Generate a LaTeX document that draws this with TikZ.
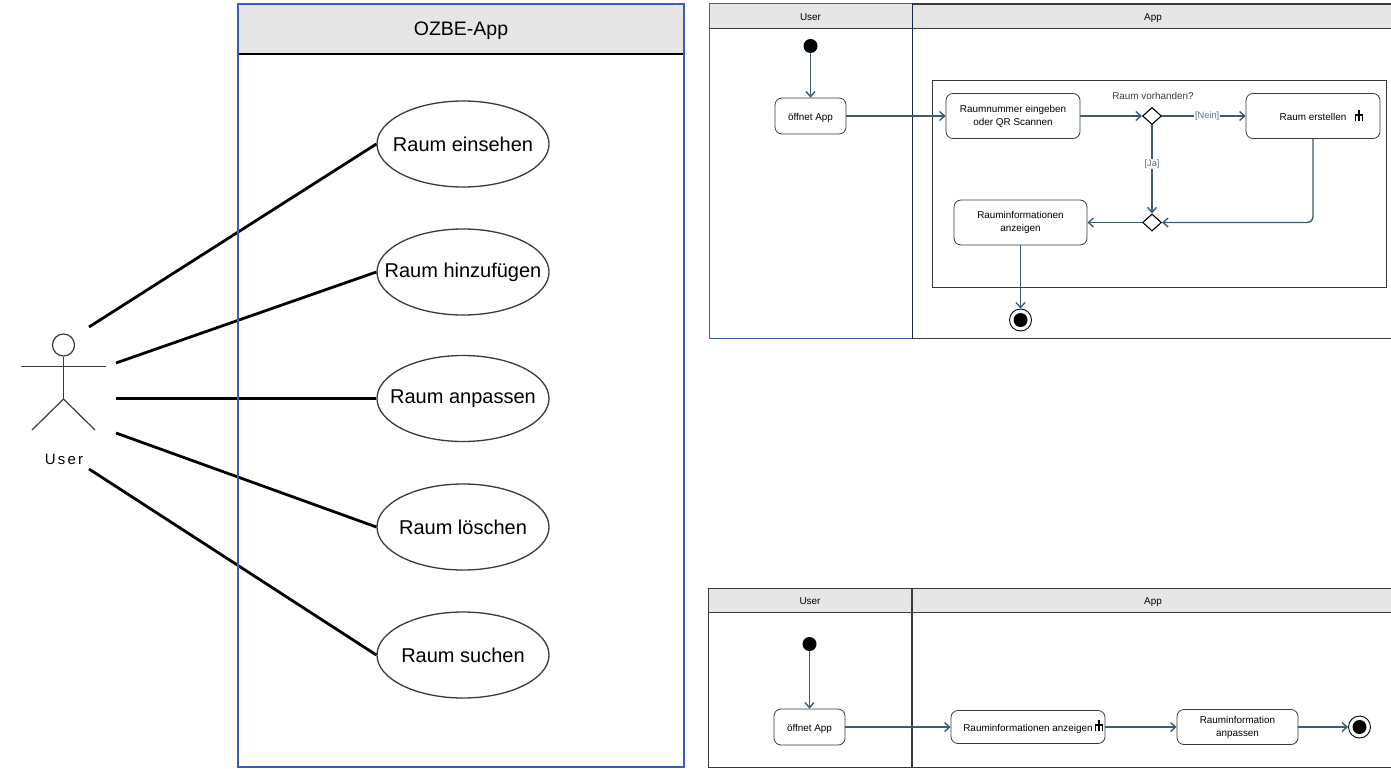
\documentclass[tikz,border=0pt]{standalone}
\usepackage{fontspec}
\setmainfont{Liberation Sans}
\usepackage{xcolor}
\usetikzlibrary{positioning,arrows.meta,shapes.geometric,calc}
\definecolor{flowcol}{HTML}{3F5B6E}
\definecolor{guardcol}{HTML}{5A7488}
\definecolor{framecol}{HTML}{3A3A3A}
\definecolor{headcol}{HTML}{E6E6E6}
\definecolor{sysblue}{HTML}{3B5BB5}
\newcommand{\lanefont}{\fontsize{9.9}{13}\selectfont}

\begin{document}
\begin{tikzpicture}[
  x=1pt, y=-1pt,
  usecase/.style={ellipse, draw=framecol, line width=1.3pt, fill=white, minimum width=172pt, minimum height=86pt, inner xsep=-40pt, inner ysep=-5pt, font=\fontsize{20}{24}\selectfont},
  assoc/.style={line width=2.8pt, black},
  limb/.style={line width=1.2pt, framecol},
  action/.style={rectangle, rounded corners=7pt, draw=framecol, line width=0.8pt, fill=white, inner sep=0pt, align=center, font=\lanefont},
  oneline/.style={text height=9pt, text depth=1pt},
  lane/.style={rectangle, draw=framecol, line width=1pt, inner sep=0pt},
  lanehead/.style={rectangle, draw=framecol, line width=0.9pt, fill=headcol, inner sep=0pt, font=\lanefont, text height=10pt, text depth=1pt},
  decision/.style={diamond, draw=black, line width=1.1pt, fill=white, minimum width=19pt, minimum height=17pt, inner sep=0pt},
  startdot/.style={circle, fill=black, minimum size=14pt, inner sep=0pt},
  endring/.style={circle, draw=black, line width=0.9pt, fill=white, minimum size=22pt, inner sep=0pt},
  flow/.style={line width=1.4pt, flowcol, -{Straight Barb[length=5pt,width=9pt]}},
  guard/.style={fill=white, inner sep=1pt, text=guardcol, font=\fontsize{9.3}{13}\selectfont},
  rake/.pic={
    \draw[line width=1.3pt, black] (0,-6) -- (0,5);
    \draw[line width=1.2pt, black] (-3.5,5) -- (-3.5,-1) -- (3.5,-1) -- (3.5,5);
  }
]
  \useasboundingbox (0,0) rectangle (1391,768);

  % Actor
  \coordinate (headc) at (63.5,345);
  \node[circle, draw=framecol, line width=1.2pt, minimum size=22pt, inner sep=0pt] (head) at (headc) {};
  \coordinate (armL) at (21,366.5);
  \coordinate (armR) at (106,366.5);
  \coordinate (hip) at (63.5,399);
  \coordinate (footL) at (32,430);
  \coordinate (footR) at (95,430);
  \draw[limb] (head.south) -- (hip);
  \draw[limb] (armL) -- (armR);
  \draw[limb] (footL) -- (hip) -- (footR);
  \node[font=\fontsize{15}{18}\selectfont\addfontfeature{LetterSpace=15}] (user) at (64,459) {User};

  % Association ends at the actor
  \coordinate (a1) at (89,327);
  \coordinate (a2) at (116,363);
  \coordinate (a3) at (116,398.5);
  \coordinate (a4) at (116,433);
  \coordinate (a5) at (89,469);

  % Use cases
  \node[usecase] (einsehen) at (463,144) {Raum einsehen};
  \node[usecase] (hinzu) at (463,272) {Raum hinzufügen};
  \node[usecase] (anpassen) at (463,398.5) {Raum anpassen};
  \node[usecase] (loeschen) at (463,527) {Raum löschen};
  \node[usecase] (suchen) at (463,655) {Raum suchen};

  \draw[assoc] (a1) -- (einsehen.west);
  \draw[assoc] (a2) -- (hinzu.west);
  \draw[assoc] (a3) -- (anpassen.west);
  \draw[assoc] (a4) -- (loeschen.west);
  \draw[assoc] (a5) -- (suchen.west);

  % System box
  \node[rectangle, fill=headcol, minimum width=445pt, minimum height=49pt, inner sep=0pt, font=\fontsize{19.5}{22}\selectfont, text height=18pt, text depth=4pt] (syshead) at (461,29) {OZBE-App};
  \draw[line width=2pt, black] (syshead.south west) -- (syshead.south east);
  \node[rectangle, draw=sysblue, line width=2.4pt, minimum width=446pt, minimum height=763pt, inner sep=0pt] (system) at (461,385.5) {};

  % Upper activity, lanes
  \node[lane, minimum width=482pt, minimum height=334pt] (applaneA) at (1153,171) {};
  \node[lanehead, minimum width=482pt, minimum height=24pt] (appheadA) at (1153,16) {App};
  \node[lanehead, minimum width=203pt, minimum height=24pt, draw=none] (userheadA) at (810.5,16) {User};
  \draw[line width=0.9pt, framecol] (userheadA.south west) -- (userheadA.south east);
  \node[lane, draw=sysblue, minimum width=203pt, minimum height=334pt] (userlaneA) at (810.5,171) {};
  \draw[line width=1.5pt, sysblue!40!black] (userlaneA.north east) -- (userlaneA.south east);

  % Upper activity, region
  \node[rectangle, draw=framecol, line width=0.8pt, minimum width=454pt, minimum height=207pt, inner sep=0pt] (region) at (1159,183.5) {};

  % Upper activity, actions
  \node[startdot] (startA) at (810.5,46) {};
  \node[action, oneline, minimum width=71pt, minimum height=36pt] (oeffnetA) at (810.5,116) {öffnet App};
  \node[action, minimum width=134pt, minimum height=45pt] (nummer) at (1013,116) {Raumnummer eingeben\\oder QR Scannen};
  \node[decision] (frage) at (1152,116) {};
  \node[text=framecol, font=\lanefont] (fragetext) at (1153,96) {Raum vorhanden?};
  \node[action, oneline, minimum width=134pt, minimum height=45pt] (erstellen) at (1313,116) {Raum erstellen};
  \pic (rakeA) at (1359,116) {rake};
  \node[decision] (merge) at (1152,222.5) {};
  \node[action, minimum width=133pt, minimum height=45pt] (anzeigenA) at (1020.5,222.5) {Rauminformationen\\anzeigen};
  \node[endring] (endeA) at (1020.5,320) {};
  \node[startdot] (endeAdot) at (endeA) {};

  % Upper activity, flows
  \draw[flow] (startA) -- (oeffnetA);
  \draw[flow] (oeffnetA) -- (nummer);
  \draw[flow] (nummer) -- (frage);
  \draw[flow] (frage) -- node[guard, pos=0.54] (nein) {[Nein]} (erstellen);
  \draw[flow] (frage) -- node[guard, pos=0.44] (ja) {[Ja]} (merge);
  \draw[flow, rounded corners=6pt] (erstellen.south) |- (merge.east);
  \draw[flow] (merge) -- (anzeigenA);
  \draw[flow] (anzeigenA) -- (endeA);

  % Lower activity, lanes
  \node[lane, minimum width=482pt, minimum height=179pt] (applaneB) at (1153,677.5) {};
  \node[lanehead, minimum width=482pt, minimum height=24pt] (appheadB) at (1153,600) {App};
  \node[lane, minimum width=203pt, minimum height=179pt] (userlaneB) at (810,677.5) {};
  \node[lanehead, minimum width=203pt, minimum height=24pt] (userheadB) at (810,600) {User};

  % Lower activity, actions
  \node[startdot] (startB) at (809.5,644) {};
  \node[action, oneline, minimum width=71pt, minimum height=36pt] (oeffnetB) at (809.5,727) {öffnet App};
  \node[action, oneline, minimum width=154pt, minimum height=33pt] (anzeigenB) at (1028,727) {Rauminformationen anzeigen};
  \pic (rakeB) at (1099,726) {rake};
  \node[action, minimum width=121pt, minimum height=35pt] (anpassenB) at (1237.5,727) {Rauminformation\\anpassen};
  \node[endring] (endeB) at (1359.5,727) {};
  \node[startdot] (endeBdot) at (endeB) {};

  % Lower activity, flows
  \draw[flow] (startB) -- (oeffnetB);
  \draw[flow] (oeffnetB) -- (anzeigenB);
  \draw[flow] (anzeigenB) -- (anpassenB);
  \draw[flow] (anpassenB) -- (endeB);
\end{tikzpicture}
\end{document}
